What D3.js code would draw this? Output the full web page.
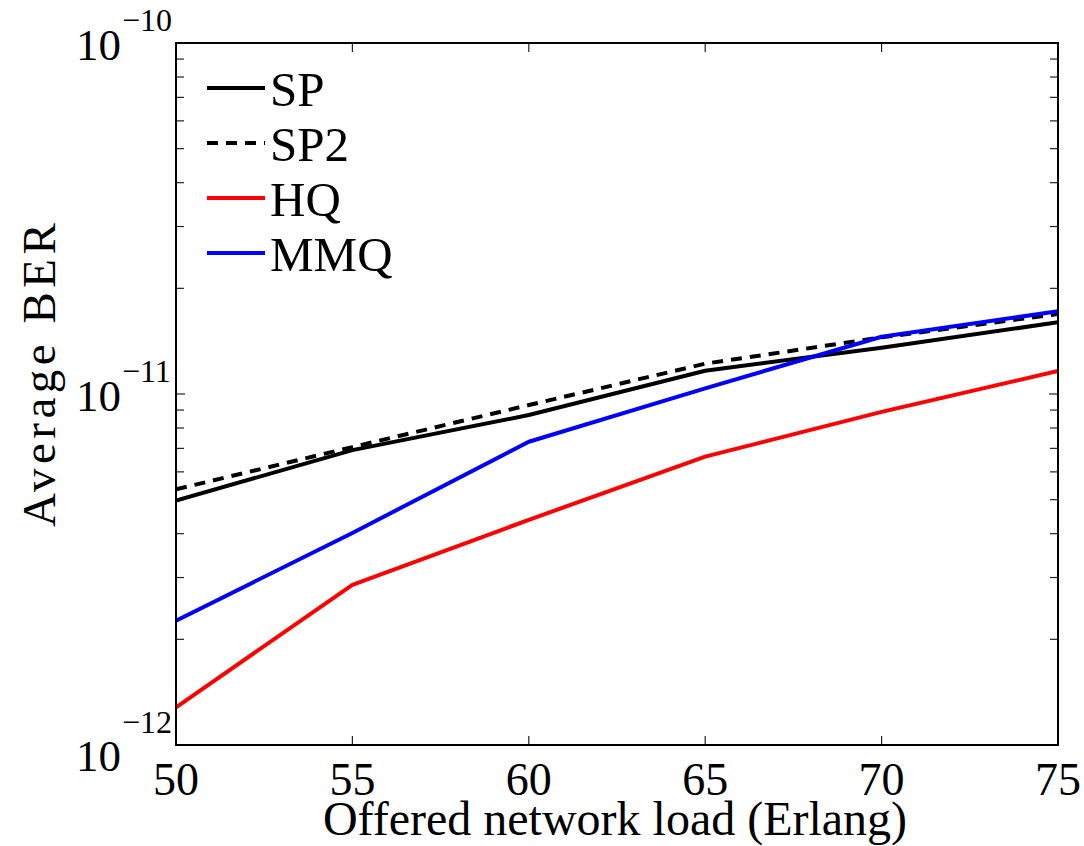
<!DOCTYPE html>
<html>
<head>
<meta charset="utf-8">
<script src="https://cdn.jsdelivr.net/npm/d3@7"></script>
<style>
  html, body { margin: 0; padding: 0; background: #fff; }
</style>
</head>
<body>
<svg id="chart" width="1084" height="846"></svg>
<script>
// ---- data ----
const loads = [50, 55, 60, 65, 70, 75];
const berSP  = [4.97e-12, 6.92e-12, 8.71e-12, 1.165e-11, 1.355e-11, 1.60e-11];
const berSP2 = [5.35e-12, 7.06e-12, 9.30e-12, 1.22e-11, 1.45e-11, 1.69e-11];
const berHQ  = [1.28e-12, 2.86e-12, 4.38e-12, 6.63e-12, 8.89e-12, 1.163e-11];
const berMMQ = [2.26e-12, 4.02e-12, 7.31e-12, 1.038e-11, 1.456e-11, 1.72e-11];
const seriesNames = ["SP", "SP2", "HQ", "MMQ"];
const xTicks = [50, 55, 60, 65, 70, 75];
const yDecadeExps = [-12, -11, -10];
const xLabel = "Offered network load (Erlang)";
const yLabel = "Average BER";

// ---- layout ----
const FONT = "'Liberation Serif', 'Times New Roman', Times, 'DejaVu Serif', serif";
const svg = d3.select("#chart");
const L = 176, R = 1058, T = 43, B = 745;
const x = d3.scaleLinear().domain([50, 75]).range([L, R]);
const y = d3.scaleLog().domain([1e-12, 1e-10]).range([B, T]);

const series = [
  { name: seriesNames[0], vals: berSP,  color: "#000000", dash: null },
  { name: seriesNames[1], vals: berSP2, color: "#000000", dash: "11,8" },
  { name: seriesNames[2], vals: berHQ,  color: "#ff0000", dash: null },
  { name: seriesNames[3], vals: berMMQ, color: "#0000ff", dash: null }
];

// ticks
const tickLen = 9, minorLen = 8;
const tickG = svg.append("g").attr("stroke", "#222").attr("stroke-width", 1.2);
xTicks.forEach(t => {
  tickG.append("line").attr("x1", x(t)).attr("x2", x(t)).attr("y1", B).attr("y2", B - tickLen);
  tickG.append("line").attr("x1", x(t)).attr("x2", x(t)).attr("y1", T).attr("y2", T + tickLen);
});
const yTickVals = [];
for (let e = -12; e < -10; e++) for (let m = 1; m <= 9; m++) yTickVals.push(m * Math.pow(10, e));
yTickVals.push(1e-10);
yTickVals.forEach(v => {
  const isMajor = Math.abs(Math.log10(v) - Math.round(Math.log10(v))) < 1e-9;
  const len = isMajor ? tickLen : minorLen;
  tickG.append("line").attr("x1", L).attr("x2", L + len).attr("y1", y(v)).attr("y2", y(v));
  tickG.append("line").attr("x1", R).attr("x2", R - len).attr("y1", y(v)).attr("y2", y(v));
});

// lines
const line = d3.line().x((d, i) => x(loads[i])).y(d => y(d));
svg.append("clipPath").attr("id", "clip").append("rect")
  .attr("x", L).attr("y", T).attr("width", R - L).attr("height", B - T);
series.forEach(s => {
  svg.append("path").datum(s.vals)
    .attr("d", line)
    .attr("fill", "none")
    .attr("stroke", s.color)
    .attr("stroke-width", 4)
    .attr("stroke-linejoin", "round")
    .attr("stroke-dasharray", s.dash)
    .attr("clip-path", "url(#clip)");
});

// axes box
svg.append("rect").attr("x", L).attr("y", T).attr("width", R - L).attr("height", B - T)
  .attr("fill", "none").attr("stroke", "#000").attr("stroke-width", 2);

// x tick labels
xTicks.forEach(t => {
  svg.append("text").attr("x", x(t)).attr("y", 795).attr("text-anchor", "middle")
    .attr("font-family", FONT).attr("font-size", 46).text(t);
});

// y tick labels (10^e)
yDecadeExps.forEach(e => {
  const yy = y(Math.pow(10, e));
  const base = yy + 17 + (e === -12 ? 9 : 0);
  const txt = svg.append("text").attr("x", 76).attr("y", base)
    .attr("font-family", FONT).attr("font-size", 45);
  txt.append("tspan").text("10");
  txt.append("tspan").attr("font-size", 32).attr("dx", 1)
    .attr("dy", e === -12 ? -38 : -29).text("\u2212" + Math.abs(e));
});

// axis titles
svg.append("text").attr("x", (L + R) / 2 - 2).attr("y", 835).attr("text-anchor", "middle")
  .attr("font-family", FONT).attr("font-size", 48).text(xLabel);
svg.append("text").attr("transform", "translate(55,527) rotate(-90)")
  .attr("text-anchor", "start").attr("font-family", FONT).attr("font-size", 47)
  .attr("letter-spacing", 4.5).text(yLabel);

// legend
const legRows = [88, 143, 198, 253];
series.forEach((s, i) => {
  svg.append("line").attr("x1", 207).attr("x2", 265).attr("y1", legRows[i]).attr("y2", legRows[i])
    .attr("stroke", s.color).attr("stroke-width", 4).attr("stroke-dasharray", s.dash);
  svg.append("text").attr("x", 270).attr("y", legRows[i] + 18)
    .attr("font-family", FONT).attr("font-size", 49).text(s.name);
});
</script>
</body>
</html>
